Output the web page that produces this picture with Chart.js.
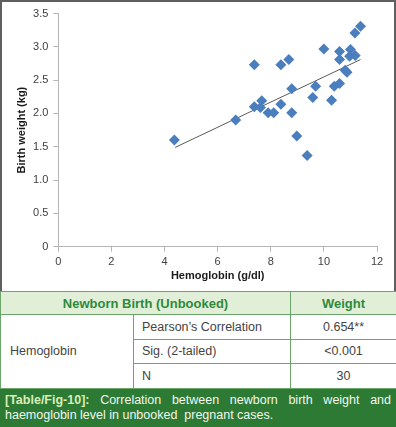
<!DOCTYPE html>
<html>
<head>
<meta charset="utf-8">
<script src="https://cdn.jsdelivr.net/npm/chart.js@4/dist/chart.umd.min.js"></script>
<style>
  body { margin: 0; background: #fff; font-family: "Liberation Sans", Arial, sans-serif; }
  #wrap { width: 396px; height: 427px; overflow: hidden; }
  #chartBox { box-sizing: border-box; width: 396px; height: 291px; border: 2px solid #5f5f5f; border-bottom: none; }
  canvas { display: block; }
  table { width: 396px; border-collapse: collapse; table-layout: fixed; font-size: 12.5px; color: #444; }
  td { border: 1px solid #6aa56a; height: 23.5px; padding: 0; }
  .hd td { background: #e1efd8; color: #2f8a3c; font-weight: bold; text-align: center; height: 22px; font-size: 13px; }
  .c1 { padding-left: 9px; }
  .c2 { padding-left: 8px; }
  .c3 { text-align: center; }
  #cap { background: #2d7a34; color: #f2f6ef; font-size: 12.5px; line-height: 15px; padding: 4px 5px 4px 5px; text-align: justify; height: 31px; }
  #cap b { color: #d8efb8; }
</style>
</head>
<body>
<div id="wrap">
  <div id="chartBox"><canvas id="c" width="392" height="289"></canvas></div>
  <table>
    <colgroup><col style="width:133px"><col style="width:157px"><col style="width:106px"></colgroup>
    <tr class="hd"><td colspan="2">Newborn Birth (Unbooked)</td><td>Weight</td></tr>
    <tr><td class="c1" rowspan="3">Hemoglobin</td><td class="c2">Pearson’s Correlation</td><td class="c3">0.654**</td></tr>
    <tr><td class="c2">Sig. (2-tailed)</td><td class="c3">&lt;0.001</td></tr>
    <tr><td class="c2">N</td><td class="c3">30</td></tr>
  </table>
  <div id="cap"><b>[Table/Fig-10]:</b> Correlation between newborn birth weight and haemoglobin level in unbooked&nbsp; pregnant cases.</div>
</div>
<script>
// hemoglobin (g/dl) vs birth weight (kg)
const hemoglobin = [4.37, 6.68, 7.38, 7.38, 7.61, 7.66, 7.90, 8.11, 8.38, 8.38,
                    8.68, 8.79, 8.79, 8.98, 9.37, 9.58, 9.69, 10.0, 10.29, 10.39,
                    10.59, 10.59, 10.59, 10.80, 10.87, 10.97, 11.0, 11.17, 11.18, 11.38];
const birthWeight = [1.60, 1.90, 2.73, 2.10, 2.09, 2.19, 2.01, 2.01, 2.73, 2.14,
                     2.81, 2.37, 2.01, 1.66, 1.37, 2.24, 2.41, 2.97, 2.20, 2.41,
                     2.93, 2.81, 2.45, 2.65, 2.62, 2.86, 2.96, 3.21, 2.87, 3.31];
// linear trendline end points
const trendX = [4.4, 11.38];
const trendY = [1.49, 2.81];

const xTicks = [0, 2, 4, 6, 8, 10, 12];
const yTicks = [0, 0.5, 1, 1.5, 2, 2.5, 3, 3.5];

const pts = hemoglobin.map((x, i) => ({x: x, y: birthWeight[i]}));
const trend = trendX.map((x, i) => ({x: x, y: trendY[i]}));

const tickFont = {family: '"Liberation Sans", Arial, sans-serif', size: 11};
const titleFont = {family: '"Liberation Sans", Arial, sans-serif', size: 11, weight: 'bold'};

new Chart(document.getElementById('c'), {
  type: 'scatter',
  data: {
    datasets: [
      {
        data: pts,
        pointStyle: 'rectRot',
        pointRadius: 5.5,
        pointBackgroundColor: '#4a7ebd',
        pointBorderWidth: 0,
        order: 1
      },
      {
        type: 'line',
        data: trend,
        borderColor: '#5a5a5a',
        borderWidth: 1,
        pointRadius: 0,
        fill: false,
        order: 2
      }
    ]
  },
  options: {
    responsive: false,
    animation: false,
    layout: { padding: { left: 0, right: 17, top: 8, bottom: 0 } },
    plugins: { legend: { display: false }, tooltip: { enabled: false } },
    scales: {
      x: {
        type: 'linear',
        min: 0, max: 12,
        afterBuildTicks: s => { s.ticks = xTicks.map(v => ({value: v})); },
        afterFit: s => { s.height = 44.4; },
        border: { color: '#b5b5b5' },
        grid: { drawOnChartArea: false, tickLength: 5, color: '#b5b5b5' },
        ticks: { color: '#404040', font: tickFont, padding: 4, maxRotation: 0 },
        title: { display: true, text: 'Hemoglobin (g/dl)', color: '#1a1a1a', font: titleFont, padding: { top: 0, bottom: 8 } }
      },
      y: {
        min: 0, max: 3.5,
        afterBuildTicks: s => { s.ticks = yTicks.map(v => ({value: v})); },
        afterFit: s => { s.width = 56.3; },
        border: { color: '#b5b5b5' },
        grid: { drawOnChartArea: false, tickLength: 5, color: '#b5b5b5' },
        ticks: { color: '#404040', font: tickFont, padding: 5 },
        title: { display: true, text: 'Birth weight (kg)', color: '#1a1a1a', font: titleFont, padding: { top: 13.4, bottom: 0 } }
      }
    }
  }
});
</script>
</body>
</html>
